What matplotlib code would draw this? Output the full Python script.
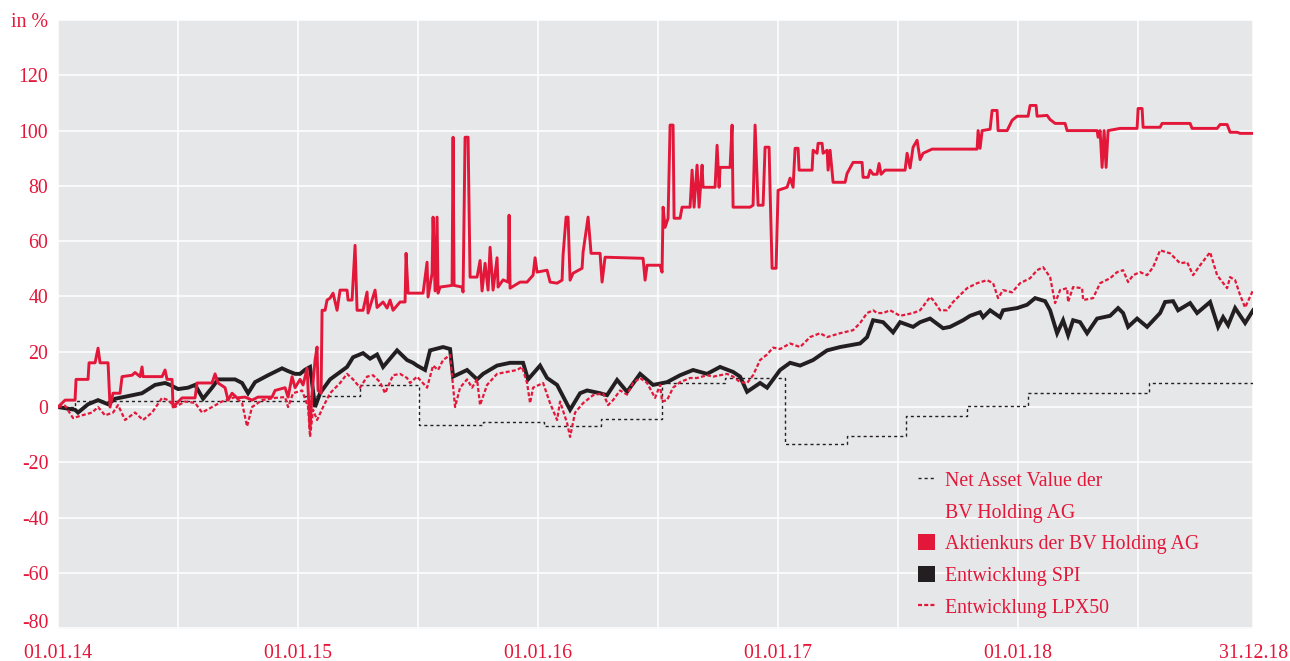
"""
Performance chart BV Holding AG vs. SPI and LPX50, 01.01.14 - 31.12.18.

x values are months since 01.01.14, y values are performance in %.
"""

import matplotlib
matplotlib.use('Agg')
import matplotlib.pyplot as plt
from matplotlib.lines import Line2D
from matplotlib.patches import Patch

# colours
RED = '#e3173a'
BLACK = '#231f20'
BACKGROUND = '#e6e7e9'

# axis ticks
year_ticks = [0, 12, 24, 36, 48, 59.75]
year_labels = ['01.01.14', '01.01.15', '01.01.16', '01.01.17', '01.01.18', '31.12.18']
value_ticks = [-80, -60, -40, -20, 0, 20, 40, 60, 80, 100, 120, 140]
value_labels = ['-80', '-60', '-40', '-20', '0', '20', '40', '60', '80', '100', '120', 'in %']

# Net Asset Value der BV Holding AG (step series)
nav_month = [0, 0.85, 12.35, 15.1, 18.05, 21.25, 24.3, 27.15, 30.2, 33.35, 36.35, 39.45, 42.4,
             45.45, 48.5, 54.55, 59.75]
nav_value = [0, 2.3, 4.1, 8, -6.5, -5.5, -7, -4.3, 8.7, 10.5, -13.4, -10.5, -3.3,
             0.4, 5, 8.7, 8.7]

# Aktienkurs der BV Holding AG (rows of both lists line up)
share_month = [0, 0.35, 0.85, 0.9, 1.5, 1.55, 1.85, 2.0, 2.1, 2.5,
               2.6, 2.75, 3.1, 3.2, 3.7, 3.85, 4.1, 4.2, 4.25, 5.2,
               5.35, 5.45, 5.7, 5.75, 6.2, 6.85, 6.95, 7.7, 7.85, 8.0,
               8.35, 8.5, 8.7, 8.95, 9.35, 9.7, 10.0, 10.7, 10.85, 11.35,
               11.5, 11.7, 11.85, 12.1, 12.25, 12.45, 12.6, 12.7, 12.85, 12.95,
               13.0, 13.15, 13.2, 13.35, 13.45, 13.6, 13.75, 13.95, 14.1, 14.45,
               14.5, 14.7, 14.85, 14.95, 15.25, 15.45, 15.5, 15.7, 15.85, 15.95,
               16.25, 16.45, 16.6, 16.75, 17.1, 17.35, 17.4, 17.5, 18.25, 18.45,
               18.5, 18.7, 18.75, 18.85, 18.95, 19.0, 19.1, 19.7, 19.75, 19.8,
               20.2, 20.25, 20.35, 20.5, 20.6, 20.95, 21.1, 21.2, 21.35, 21.5,
               21.6, 21.75, 21.95, 22.0, 22.25, 22.5, 22.55, 22.6, 23.1, 23.45,
               23.75, 23.85, 23.95, 24.45, 24.6, 24.95, 25.2, 25.25, 25.4, 25.5,
               25.6, 25.75, 26.2, 26.25, 26.5, 26.65, 27.1, 27.2, 27.35, 29.25,
               29.35, 29.45, 30.1, 30.2, 30.25, 30.35, 30.5, 30.6, 30.75, 30.8,
               31.1, 31.2, 31.6, 31.7, 31.8, 31.95, 32.05, 32.2, 32.25, 32.85,
               32.95, 33.05, 33.1, 33.6, 33.7, 33.75, 34.6, 34.75, 34.85, 35.0,
               35.25, 35.35, 35.55, 35.6, 35.7, 35.9, 36.0, 36.45, 36.6, 36.75,
               36.85, 37.0, 37.05, 37.7, 37.75, 37.95, 38.0, 38.2, 38.25, 38.45,
               38.5, 38.6, 38.7, 38.75, 39.35, 39.45, 39.75, 40.2, 40.25, 40.5,
               40.6, 40.75, 40.95, 41.05, 41.15, 41.35, 42.35, 42.45, 42.6, 42.75,
               42.95, 43.1, 43.25, 43.7, 45.95, 46.0, 46.1, 46.2, 46.6, 46.7,
               46.95, 47.0, 47.45, 47.7, 47.95, 48.5, 48.6, 48.9, 48.95, 49.45,
               49.6, 49.85, 50.35, 50.45, 51.95, 52.0, 52.1, 52.2, 52.3, 52.4,
               52.5, 53.1, 53.95, 54.0, 54.2, 54.25, 55.1, 55.2, 56.6, 56.7,
               57.95, 58.1, 58.45, 58.6, 58.95, 59.1, 59.75]
share_value = [0, 2.5, 2.5, 10, 10, 16, 16, 21.3, 16, 16,
               0, 5, 5, 11, 11.5, 12.5, 11, 14.5, 11, 11,
               13.4, 10, 10, 0, 3.3, 3.3, 8.7, 8.7, 12, 8.7,
               7, 2.5, 5, 3.3, 3.6, 2.5, 3.6, 3.6, 6, 7,
               3.6, 11, 7, 10, 8, 14, -8, 5, 17, 21.7,
               6, 5, 35, 35, 38.7, 39.4, 41.2, 35, 42.3, 42.3,
               38.7, 38.7, 58.5, 35, 35, 41.6, 34, 38.7, 42.3, 36,
               38, 35.8, 38.7, 35, 38, 38, 55.6, 41.2, 41.2, 52.4,
               39.8, 48.4, 68.7, 42, 68.7, 41.2, 43.4, 44, 97.6, 44,
               43.4, 41.6, 97.6, 97.6, 47, 47, 53, 42, 52, 42.3,
               57.8, 42.3, 54, 43.4, 46, 45.2, 69.4, 43, 45.2, 45.2,
               47.7, 54, 48.8, 49.5, 45.2, 44.8, 45.9, 55, 68.7, 68.7,
               45.9, 48.4, 50.2, 56, 68.7, 55.6, 55.6, 45.2, 54.2, 53.8,
               45.9, 51.3, 51.3, 48.8, 72.3, 65, 68.3, 102, 102, 68.3,
               68.3, 72.3, 72.3, 85.7, 72.3, 87.5, 72.3, 87.5, 79.5, 79.5,
               94.7, 79.5, 86.7, 86.7, 102, 72.3, 72.3, 73, 102, 73,
               73, 94, 94, 78.4, 50.2, 50.2, 78.4, 79.5, 82.8, 79.5,
               93.6, 93.6, 85.7, 85.7, 92.9, 91.8, 95.4, 95.4, 91.8, 92.9,
               85.7, 92.9, 84.9, 81.3, 81.3, 84.5, 88.5, 88.5, 83.1, 83.1,
               85.7, 84.2, 84.2, 88.1, 84.2, 85.7, 85.7, 91.8, 86.5, 94,
               96.5, 89.5, 91.8, 93.3, 93.3, 100, 93.6, 100, 100.5, 107.3,
               107.3, 100, 100, 103.7, 105.2, 105.2, 109.1, 109.1, 105.2, 105.5,
               104, 102.6, 102.6, 100, 100, 97.6, 100, 86.7, 100, 86.7,
               100, 100.8, 100.8, 108, 108, 101.2, 101.2, 102.6, 102.6, 100.8,
               100.8, 102.2, 102.2, 99.4, 99.4, 99, 99]

# Entwicklung SPI
spi_month = [0, 0.85, 1.0, 1.5, 2.0, 2.5, 2.85, 3.2, 4.2, 4.85, 5.35, 5.6, 6.0, 6.5, 6.85,
             7.25, 7.7, 8.0, 8.85, 9.2, 9.5, 9.85, 10.5, 11.2, 11.5, 11.85, 12.1, 12.35,
             12.6, 12.85, 13.1, 13.6, 14.45, 14.75, 15.25, 15.6, 15.95, 16.25, 16.95, 17.45,
             17.75, 17.95, 18.35, 18.6, 19.25, 19.6, 19.75, 20.45, 20.95, 21.25, 21.95, 22.6,
             23.25, 23.5, 24.1, 24.45, 24.95, 25.6, 26.1, 26.45, 27.1, 27.45, 27.95, 28.45,
             29.1, 29.75, 30.45, 31.1, 31.75, 32.45, 33.1, 33.75, 34.1, 34.45, 35.1, 35.45,
             36.1, 36.6, 37.1, 37.75, 38.45, 39.1, 40.1, 40.45, 40.75, 41.25, 41.75, 42.1,
             42.75, 43.1, 43.6, 44.25, 44.6, 45.25, 45.6, 46.1, 46.25, 46.6, 47.1, 47.25,
             47.95, 48.45, 48.85, 49.35, 49.6, 49.95, 50.25, 50.5, 50.75, 51.1, 51.45, 51.95,
             52.6, 53.0, 53.25, 53.5, 53.95, 54.45, 55.1, 55.35, 55.75, 56.0, 56.6, 56.95,
             57.6, 58.0, 58.25, 58.5, 58.85, 59.35, 59.75]
spi_value = [0, -1, -2, 1, 2.5, 1, 3, 3.5, 5, 8, 8.7, 8, 6.5, 7, 8,
             3, 7, 10, 10, 8.7, 5, 9, 11.5, 14, 13, 12, 12, 13.5,
             14.5, 0, 5, 10, 14.5, 18, 19.5, 17.5, 19, 14.5, 20.5, 17,
             16, 15, 13.4, 20.5, 21.7, 21, 11, 13.4, 10, 12, 15, 16,
             16, 10, 15, 10.5, 8, -1, 5, 6, 5, 4.3, 9.8, 5.5,
             12, 8, 9, 11.5, 13.4, 12, 14.5, 12.7, 11, 5.5, 8.7, 7,
             13.4, 16, 15, 17, 20.5, 21.7, 23, 25.3, 31.4, 30.7, 27, 30.7,
             29, 30.7, 32, 28.5, 29, 31.4, 33, 34.3, 32.5, 35, 32.5, 35,
             35.8, 37, 39.4, 38.3, 35, 26.7, 31.4, 26, 31.4, 30.7, 26.7, 32,
             33, 35.8, 34, 29, 32, 29, 34, 38, 38.3, 35, 37.6, 34,
             38, 29, 32.5, 29.6, 35.8, 30.4, 35]

# Entwicklung LPX50
lpx_month = [0, 0.35, 0.75, 1.2, 1.7, 2.0, 2.35, 2.75, 3.0, 3.35, 3.85, 4.25, 4.7, 5.2, 5.5,
             5.85, 6.35, 6.85, 7.2, 7.7, 8.2, 8.85, 9.2, 9.45, 9.7, 10.2, 10.85, 11.35, 11.5,
             11.75, 12.2, 12.5, 12.6, 12.75, 12.95, 13.25, 13.6, 14.1, 14.45, 14.75, 15.1,
             15.45, 15.75, 16.1, 16.35, 16.75, 17.1, 17.45, 17.6, 17.95, 18.45, 18.75, 19.0,
             19.25, 19.6, 19.85, 20.1, 20.45, 20.7, 20.95, 21.1, 21.45, 21.95, 22.45, 22.95,
             23.2, 23.45, 23.6, 23.75, 24.25, 24.6, 24.95, 25.1, 25.45, 25.6, 25.85, 26.25,
             26.75, 27.25, 27.5, 27.75, 28.1, 28.45, 28.75, 29.1, 29.45, 29.85, 30.1, 30.2,
             30.45, 30.75, 31.1, 31.6, 31.95, 32.45, 32.75, 33.45, 33.75, 34.1, 34.45, 34.75,
             35.1, 35.45, 35.75, 36.1, 36.6, 37.1, 37.6, 38.1, 38.45, 39.1, 39.75, 40.1,
             40.45, 40.75, 40.95, 41.25, 41.6, 42.1, 42.75, 43.1, 43.6, 43.75, 44.1, 44.45,
             44.75, 45.1, 45.45, 45.95, 46.45, 46.75, 47.0, 47.25, 47.7, 48.1, 48.6, 48.95,
             49.25, 49.6, 49.85, 50.1, 50.45, 50.5, 50.75, 51.2, 51.25, 51.75, 52.1, 52.6,
             52.95, 53.25, 53.5, 53.75, 54.1, 54.45, 54.75, 55.1, 55.6, 56.1, 56.45, 56.75,
             57.1, 57.6, 57.95, 58.45, 58.6, 58.85, 59.1, 59.35, 59.75]
lpx_value = [0, 0.5, -4, -3, -2, 0, -3, -2, 0.7, -4.7, -2, -4.7, -2, 3.3, 2.5,
             0, 2, 1.5, -2, 0, 2, 3.6, 1.5, -7, 0, 2.5, 3.3, 3.6, 0,
             5, 6, 0, -10.8, -1, -4.7, 0, 5, 8.7, 12, 10, 7,
             11, 11.5, 9, 5, 11.5, 12, 10.5, 8.7, 11, 7, 15, 13.4,
             17, 18.8, 0, 7, 10, 7, 10, 0.7, 8, 12, 12.7, 13.4,
             14.5, 8.7, 1.4, 7, 8.7, 1.4, -4.7, 2, -5.8, -10.8, -2, 1.4,
             4.3, 5, 0.7, 2.5, 6, 4.5, 8.7, 10.5, 8.7, 3.3, 8, 2,
             2.5, 7, 9, 10.5, 10.5, 11.5, 11, 12, 11, 9, 8.7, 11.5,
             17, 19, 21.5, 21, 23, 21.7, 25.3, 26.7, 25.3, 26.7, 27.8, 30.4,
             34, 35, 34, 34, 35, 33, 34, 35, 39.8, 38.7, 35, 35,
             38, 40.5, 43, 44.8, 45.9, 44.8, 39.4, 42.3, 41.5, 44.8, 46.6, 49.5,
             50.6, 47, 37.6, 42.3, 43, 38, 43.4, 43, 38.7, 39.4, 44.8, 46.6,
             48.8, 49.5, 45.2, 47.7, 48.8, 47.7, 50.6, 56.7, 55.6, 52, 52.4, 47.7,
             51.3, 56, 47.7, 43, 47, 45.9, 40.5, 36, 42.3]

legend_labels = ['Net Asset Value der', 'BV Holding AG', 'Aktienkurs der BV Holding AG',
                 'Entwicklung SPI', 'Entwicklung LPX50']


def main():
    plt.rcParams['font.family'] = ['Liberation Serif', 'DejaVu Serif']
    plt.rcParams['font.size'] = 14.3

    fig = plt.figure(figsize=(12.9, 6.61), dpi=100)
    ax = fig.add_axes([0.045, 0.0484, 0.9264, 0.9213])
    ax.set_facecolor(BACKGROUND)

    # series
    ax.plot(nav_month, nav_value, color=BLACK, lw=1.0, dashes=(2.2, 2.2),
            drawstyle='steps-post', zorder=2)
    ax.plot(spi_month, spi_value, color=BLACK, lw=2.8, solid_joinstyle='miter', zorder=3)
    ax.plot(lpx_month, lpx_value, color=RED, lw=1.6, dashes=(1.8, 1.0), zorder=4)
    ax.plot(share_month, share_value, color=RED, lw=2.1, zorder=5)

    # axes and grid
    ax.set_xlim(0, 59.75)
    ax.set_ylim(-80.3, 140)
    ax.set_xticks(year_ticks, year_labels)
    ax.set_xticks(range(6, 60, 12), minor=True)
    ax.set_yticks(value_ticks, value_labels)
    ax.grid(True, which='both', color='white', lw=1.1)
    ax.set_axisbelow(True)
    ax.tick_params(which='both', length=0, colors=RED, labelsize=14.3)
    ax.tick_params(axis='y', pad=7)
    ax.tick_params(axis='x', pad=11)
    for spine in ax.spines.values():
        spine.set_visible(False)
    # lift the lowest label a bit so it clears the date labels
    ax.get_yticklabels()[0].set_verticalalignment('baseline')

    # legend
    handles = [
        Line2D([], [], color=BLACK, lw=1.0, dashes=(2.2, 2.2)),
        Line2D([], [], linestyle='none'),
        Patch(facecolor=RED, edgecolor='none'),
        Patch(facecolor=BLACK, edgecolor='none'),
        Line2D([], [], color=RED, lw=1.6, dashes=(1.8, 1.0)),
    ]
    leg = ax.legend(handles, legend_labels, loc='upper left',
                    bbox_to_anchor=(918 / 1290, 1 - 471 / 661), bbox_transform=fig.transFigure,
                    frameon=False, borderpad=0, borderaxespad=0, handlelength=0.85,
                    handleheight=0.85, handletextpad=0.5, labelspacing=0.6, fontsize=14.3)
    for text in leg.get_texts():
        text.set_color(RED)

    fig.savefig('out.png', dpi=100)


if __name__ == "__main__":
    main()
